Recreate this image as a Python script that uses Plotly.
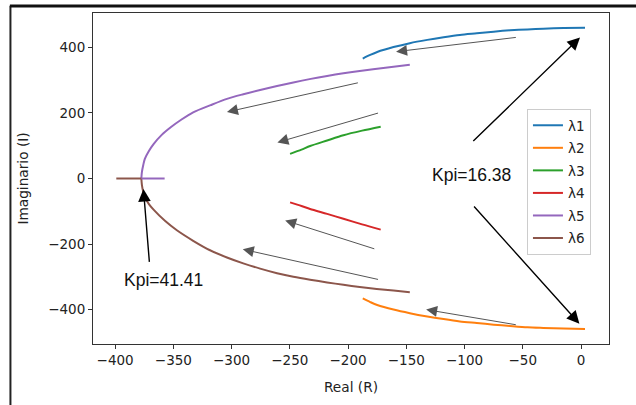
import plotly.graph_objects as go

# ---- data ----
names = ["λ1", "λ2", "λ3", "λ4", "λ5", "λ6"]
colors = ["#1f77b4", "#ff7f0e", "#2ca02c", "#d62728", "#9467bd", "#8c564b"]

x1 = [-187.4, -181, -175, -161, -147, -132, -118, -104, -89.5, -75, -61, -46, -32.4, -15, 3.4]
y1 = [366, 377, 386, 401, 413, 423, 431, 438, 443, 448, 452, 455, 457, 459, 460]
x2 = [-187.4, -181, -175, -161, -147, -132, -118, -104, -89.5, -75, -61, -46, -32.4, -15, 3.4]
y2 = [-366, -377, -386, -400, -411, -421, -429, -436, -441, -446, -450, -454, -456, -458, -459]
x3 = [-249.8, -240, -232.6, -218, -204, -188, -172]
y3 = [75, 88, 99, 116, 132, 146, 158]
x4 = [-249.8, -240, -232.6, -218, -204, -188, -172]
y4 = [-73, -84, -93, -108, -123, -140, -156]
# complex branches of λ5 / λ6 (leave the real axis at the breakaway point)
x5 = [-377.5, -377.0, -375.8, -374.5, -371, -367, -360, -352, -343, -333, -318, -304, -290, -275.5, -261, -247, -232, -218, -204, -190, -168, -147]
y5 = [0, 20, 42, 60, 84, 105, 133, 157, 180, 202, 224, 243, 257, 270, 282, 293, 304, 313, 321, 328, 338, 347]
x6 = [-377.5, -377.0, -375.8, -374.5, -371, -367, -357, -347, -333, -318.5, -304, -290, -275.5, -261, -247, -232.6, -218, -204, -190, -175.4, -161, -147]
y6 = [0, -20, -42, -57, -78, -95, -130, -158, -190, -219, -241, -259, -275, -289, -300, -309, -317, -324.5, -331, -337, -342, -347]
# real-axis parts of λ5 / λ6
x5_real = [-357.5, -377.5]
y5_real = [0, 0]
x6_real = [-399, -377.5]
y6_real = [0, 0]

xs = [x1, x2, x3, x4, x5, x6]
ys = [y1, y2, y3, y4, y5, y6]

# gray direction arrows: (tail_x, tail_y, head_x, head_y)
gray_arrows = [
    (-54.7, 431, -158.8, 387),
    (-190.3, 293, -304, 203),
    (-173, 201, -260.7, 110),
    (-176.2, -216, -254, -128),
    (-173, -309, -290.4, -216),
    (-54.7, -447, -133, -400),
]
# black annotation arrows
black_arrows = [
    (-93.8, 110, -0.9, 430),
    (-93, -81, -1.4, -443),
    (-370.5, -259, -375.7, -32),
]
labels = [("Kpi=16.38", -94, 10), ("Kpi=41.41", -358.5, -311)]

x_ticks = [-400, -350, -300, -250, -200, -150, -100, -50, 0]
y_ticks = [-400, -200, 0, 200, 400]

fig = go.Figure()
for n, c, x, y in zip(names, colors, xs, ys):
    fig.add_trace(go.Scatter(x=x, y=y, mode="lines", name=n,
                             line=dict(color=c, width=2, shape="spline", smoothing=0.8),
                             legendgroup=n))
fig.add_trace(go.Scatter(x=x5_real, y=y5_real, mode="lines", line=dict(color=colors[4], width=2),
                         legendgroup="λ5", showlegend=False))
fig.add_trace(go.Scatter(x=x6_real, y=y6_real, mode="lines", line=dict(color=colors[5], width=2),
                         legendgroup="λ6", showlegend=False))

ann = []
for tx, ty, hx, hy in gray_arrows:
    ann.append(dict(x=hx, y=hy, ax=tx, ay=ty, xref="x", yref="y", axref="x", ayref="y",
                    text="", showarrow=True, arrowhead=2, arrowsize=2.2, arrowwidth=1,
                    arrowcolor="#555555", standoff=0))
for tx, ty, hx, hy in black_arrows:
    ann.append(dict(x=hx, y=hy, ax=tx, ay=ty, xref="x", yref="y", axref="x", ayref="y",
                    text="", showarrow=True, arrowhead=2, arrowsize=1.8, arrowwidth=1.4,
                    arrowcolor="#000000", standoff=0))
for t, x, y in labels:
    ann.append(dict(x=x, y=y, xref="x", yref="y", text=t, showarrow=False,
                    font=dict(family="Liberation Sans, Arial", size=17.5, color="#111111")))

axis_common = dict(showline=True, mirror=True, linecolor="#333333", linewidth=1,
                   ticks="outside", ticklen=4, tickwidth=1, tickcolor="#333333",
                   showgrid=False, zeroline=False,
                   tickfont=dict(family="DejaVu Sans", size=13.5, color="#222222"))

fig.update_layout(
    width=636, height=405,
    margin=dict(l=93, r=27, t=13, b=57),
    paper_bgcolor="white", plot_bgcolor="white",
    font=dict(family="DejaVu Sans", size=13.5, color="#222222"),
    xaxis=dict(range=[-419, 24], tickvals=x_ticks,
               title=dict(text="Real (R)", standoff=15,
                          font=dict(family="DejaVu Sans", size=13.7)),
               **axis_common),
    yaxis=dict(range=[-505, 505], tickvals=y_ticks,
               title=dict(text="Imaginario (I)", standoff=16,
                          font=dict(family="DejaVu Sans", size=13.7)),
               **axis_common),
    legend=dict(x=0.841, y=0.71, xanchor="left", yanchor="top",
                bordercolor="#cccccc", borderwidth=1, bgcolor="white",
                font=dict(family="DejaVu Sans", size=13.5), tracegroupgap=2),
    annotations=ann,
    shapes=[
        dict(type="line", xref="paper", yref="paper", x0=-0.16, x1=-0.16, y0=-0.3, y1=1.022,
             line=dict(color="#222222", width=2), layer="above"),
        dict(type="line", xref="paper", yref="paper", x0=-0.161, x1=1.2, y0=1.021, y1=1.021,
             line=dict(color="#111111", width=3), layer="above"),
    ],
)

fig.write_html("out.html", config={"displayModeBar": False},
               post_script="document.body.style.margin='0px';")
